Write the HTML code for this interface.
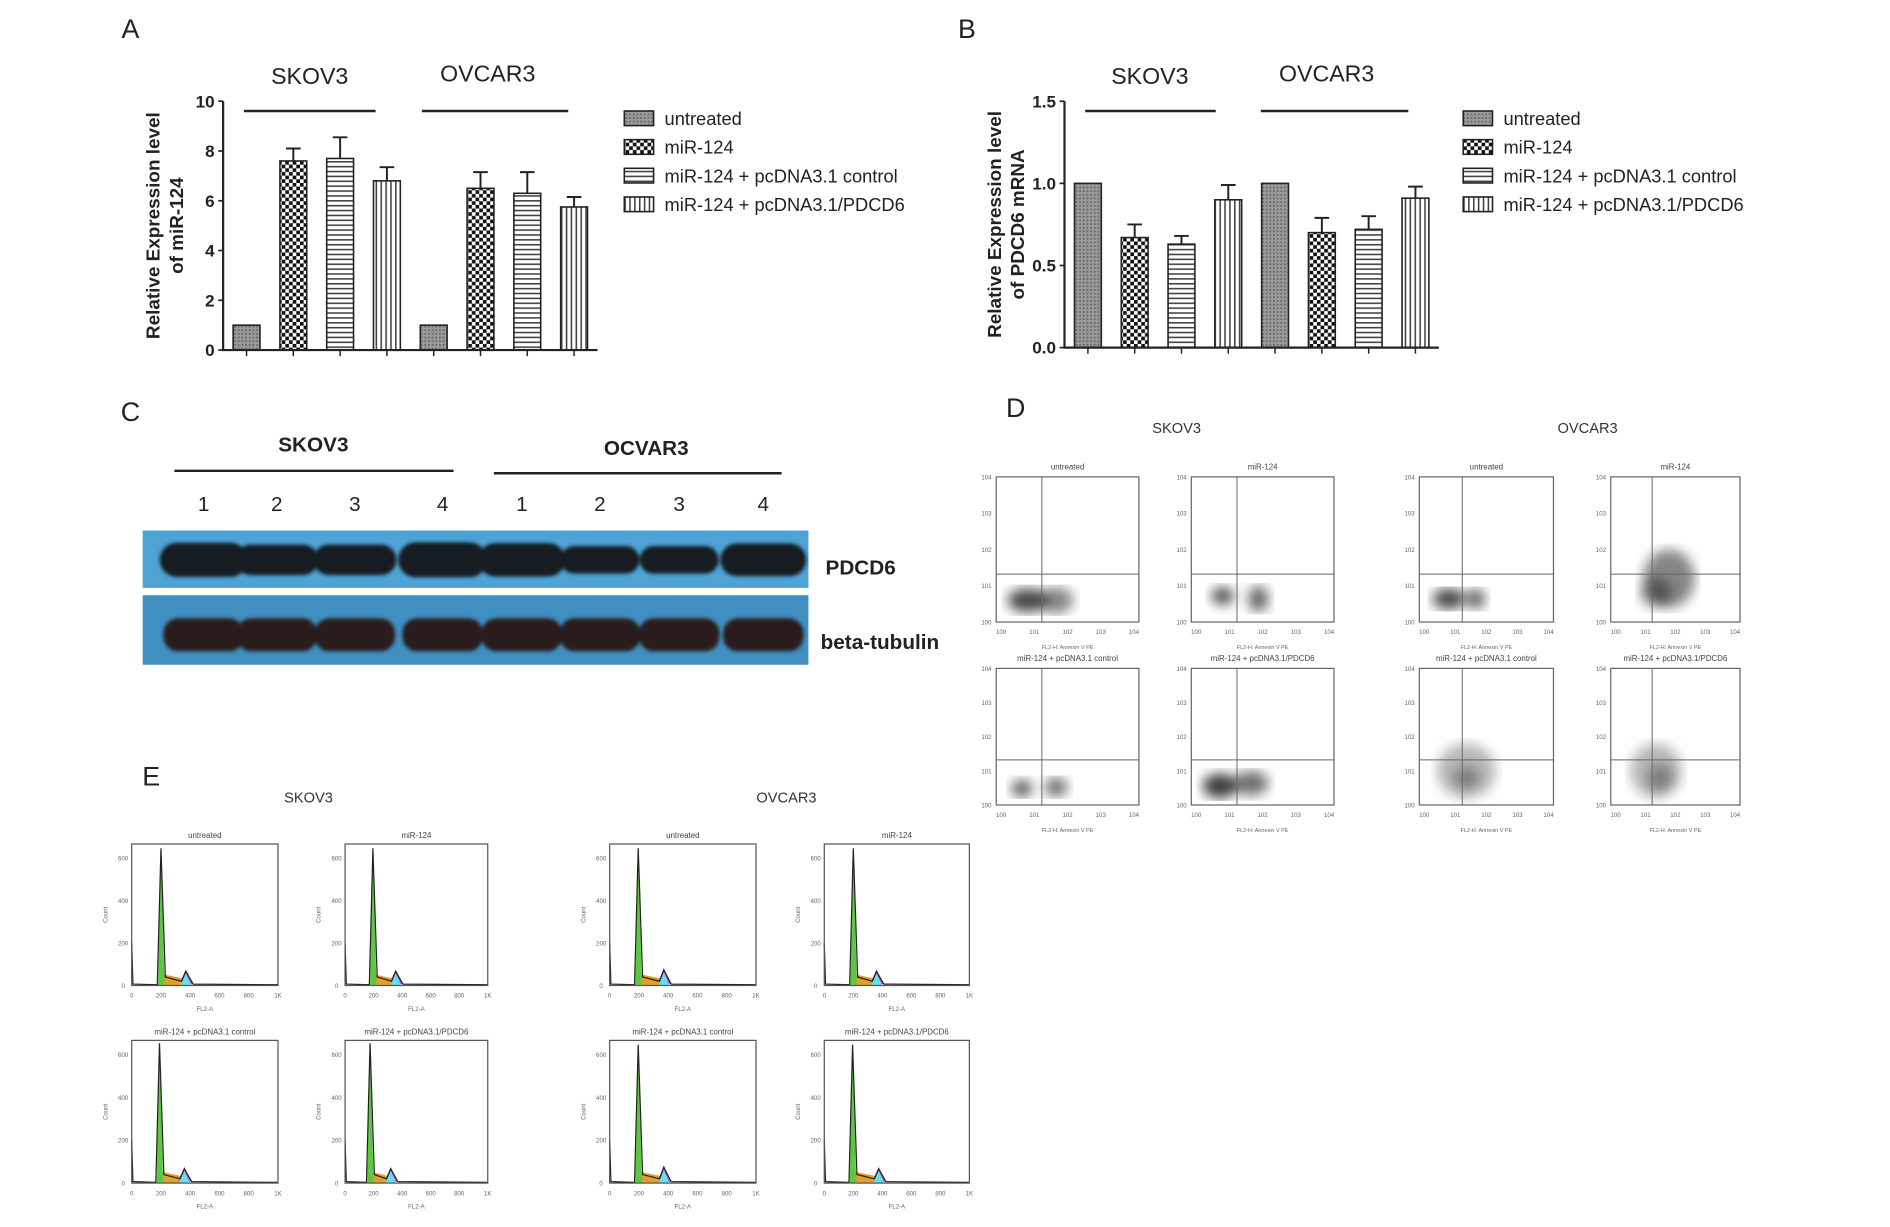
<!DOCTYPE html>
<html><head><meta charset="utf-8"><style>
html,body{margin:0;padding:0;background:#fff;}
svg{display:block;font-family:"Liberation Sans",Arial,sans-serif;}
</style></head><body>
<svg id="fig" width="1890" height="1227" viewBox="0 0 1550 1006" preserveAspectRatio="none">
<defs>
<pattern id="pUnt" width="3" height="3" patternUnits="userSpaceOnUse"><rect width="3" height="3" fill="#9a9a9a"/><rect width="1.5" height="1.5" fill="#6a6a6a"/></pattern>
<pattern id="pChk" width="6" height="6" patternUnits="userSpaceOnUse"><rect width="6" height="6" fill="#fff"/><rect width="3" height="3" fill="#111"/><rect x="3" y="3" width="3" height="3" fill="#111"/></pattern>
<pattern id="pHor" width="4" height="4" patternUnits="userSpaceOnUse"><rect width="4" height="4" fill="#fff"/><rect width="4" height="1.3" fill="#444"/></pattern>
<pattern id="pVer" width="4" height="4" patternUnits="userSpaceOnUse"><rect width="4" height="4" fill="#fff"/><rect width="1.3" height="4" fill="#444"/></pattern>
<filter id="blur3"><feGaussianBlur stdDeviation="3"/></filter>
<filter id="blur5"><feGaussianBlur stdDeviation="5"/></filter>
<filter id="blur2"><feGaussianBlur stdDeviation="1.5"/></filter>
</defs>
<g id="root"></g>
</svg>
<script>
// ---------- data ----------
const groups = ["SKOV3","OVCAR3"];
const legendLabels = ["untreated","miR-124","miR-124 + pcDNA3.1 control","miR-124 + pcDNA3.1/PDCD6"];
const valuesA = [1,7.6,7.7,6.8,1,6.5,6.3,5.75];
const errA    = [0,0.5,0.85,0.55,0,0.65,0.85,0.4];
const ticksA  = [0,2,4,6,8,10];
const valuesB = [1,0.67,0.63,0.9,1,0.7,0.72,0.91];
const errB    = [0,0.08,0.05,0.09,0,0.09,0.08,0.07];
const ticksB  = [0,0.5,1.0,1.5];
const laneNums = ["1","2","3","4","1","2","3","4"];
const pdcd6Intensity = [1.0,0.75,0.75,1.05,0.95,0.55,0.55,0.9];
const tubulinIntensity = [1,1,1,1,1,1,1,1];
const flowTitles = ["untreated","miR-124","miR-124 + pcDNA3.1 control","miR-124 + pcDNA3.1/PDCD6"];
const flowSK = [
 [[0.22,0.15,0.14,0.08,0.9],[0.42,0.15,0.12,0.09,0.6]],
 [[0.22,0.18,0.08,0.06,0.85],[0.47,0.16,0.07,0.09,0.75]],
 [[0.18,0.12,0.07,0.06,0.85],[0.42,0.13,0.08,0.07,0.7]],
 [[0.2,0.14,0.12,0.09,0.95],[0.42,0.16,0.12,0.09,0.7]]];
const flowOV = [
 [[0.22,0.16,0.12,0.07,0.9],[0.42,0.16,0.07,0.07,0.75]],
 [[0.45,0.3,0.2,0.2,0.6],[0.35,0.2,0.12,0.1,0.5]],
 [[0.35,0.25,0.22,0.2,0.35],[0.35,0.2,0.1,0.08,0.4]],
 [[0.35,0.25,0.2,0.2,0.35],[0.38,0.2,0.1,0.1,0.4]]];
const histSK = [[200,0.97,370,0.1],[195,0.97,355,0.1],[190,0.98,360,0.1],[175,0.98,320,0.1]];
const histOV = [[195,0.97,370,0.11],[200,0.97,360,0.1],[195,0.97,370,0.11],[195,0.97,375,0.1]];

const NS="http://www.w3.org/2000/svg";
const root=document.getElementById('root');
function el(tag,attrs,parent,txt){const e=document.createElementNS(NS,tag);for(const k in attrs)e.setAttribute(k,attrs[k]);if(txt!==undefined)e.textContent=txt;(parent||root).appendChild(e);return e;}
const fills=["url(#pUnt)","url(#pChk)","url(#pHor)","url(#pVer)"];

function barChart(name,ax,x1,yTop,yBot,vmax,vals,errs,ticks,tickFmt,titleLines,legX,grpLabelPos,grpLines){
  const g=el('g',{});
  
  
  const yS=v=>yBot-v/vmax*(yBot-yTop);
  const step=(x1-ax)/8;
  const xS=i=>ax+step*(i+0.5);
  const bw=22;
  vals.forEach((v,i)=>{
    const b=el('rect',{x:xS(i)-bw/2,y:yS(v),width:bw,height:yBot-yS(v),fill:fills[i%4],stroke:'#222','stroke-width':1.3},g);
    
    
    if(errs[i]>0){
      const yt=yS(v+errs[i]);
      const eb=el('path',{d:`M${xS(i)} ${yS(v)}V${yt}M${xS(i)-6} ${yt}H${xS(i)+6}`,stroke:'#222','stroke-width':1.6,fill:'none'},g);
      
      
    }
    el('line',{x1:xS(i),x2:xS(i),y1:yBot,y2:yBot+5,stroke:'#222','stroke-width':1.2},g);
  });
  const axes=el('path',{d:`M${ax} ${yTop}V${yBot}H${x1}`,stroke:'#222','stroke-width':1.8,fill:'none'},g);
  
  
  ticks.forEach(t=>{
    el('line',{x1:ax-4,x2:ax,y1:yS(t),y2:yS(t),stroke:'#222','stroke-width':1.4},g);
    const tl=el('text',{x:ax-7,y:yS(t)+5,'text-anchor':'end','font-size':14,'font-weight':'bold',fill:'#222'},g,tickFmt(t));
    
    
  });
  const tt=el('text',{transform:`translate(${ax-52},${(yTop+yBot)/2}) rotate(-90)`,'text-anchor':'middle','font-size':15.5,'font-weight':'bold',fill:'#222'},g);
  
  
  el('tspan',{x:0,dy:0},tt,titleLines[0]);
  el('tspan',{x:0,dy:19},tt,titleLines[1]);
  groups.forEach((gn,k)=>{
    const gl=el('text',{x:grpLabelPos[k][0],y:grpLabelPos[k][1],'text-anchor':'middle','font-size':19,fill:'#222'},g,gn);
    
    
    el('line',{x1:grpLines[k][0],x2:grpLines[k][1],y1:91,y2:91,stroke:'#222','stroke-width':2},g);
  });
  legendLabels.forEach((l,i)=>{
    const y=97+i*23.5;
    const le=el('g',{},g);
    
    
    el('rect',{x:legX,y:y-6,width:24,height:12,fill:fills[i],stroke:'#222','stroke-width':1.3},le);
    el('text',{x:legX+33,y:y+5.5,'font-size':15,fill:'#222'},le,l);
  });
}
barChart('chart-a-mir124',183,490,83,287,10,valuesA,errA,ticksA,t=>String(t),["Relative Expression level","of miR-124"],512,[[254,69],[400,67]],[[200,308],[346,466]]);
barChart('chart-b-pdcd6',873,1180,83,285,1.5,valuesB,errB,ticksB,t=>t.toFixed(1),["Relative Expression level","of PDCD6 mRNA"],1200,[[943,69],[1088,67]],[[890,997],[1034,1155]]);

[["A",107,31],["B",793,31],["C",107,345],["D",833,342],["E",124,644]].forEach(([t,x,y])=>{
  const p=el('text',{x:x,y:y,'font-size':22,fill:'#222','text-anchor':'middle'},root,t);
  
  
});

// ---------- Panel C western blot ----------
(function(){
  const g=el('g',{});
  
  
  el('text',{x:257,y:370,'text-anchor':'middle','font-size':17,'font-weight':'bold',fill:'#222'},g,'SKOV3');
  el('line',{x1:143,x2:372,y1:386,y2:386,stroke:'#222','stroke-width':2},g);
  el('text',{x:530,y:373,'text-anchor':'middle','font-size':17,'font-weight':'bold',fill:'#222'},g,'OCVAR3');
  el('line',{x1:405,x2:641,y1:388,y2:388,stroke:'#222','stroke-width':2},g);
  const lx=[167,227,291,363,428,492,557,626];
  laneNums.forEach((n,i)=>{el('text',{x:lx[i],y:419,'text-anchor':'middle','font-size':17,fill:'#222'},g,n);});
  const b1=el('rect',{x:117,y:435,width:546,height:47,fill:'#4ea3d6'},g);
  
  
  const b2=el('rect',{x:117,y:488,width:546,height:57,fill:'#3f8fc0'},g);
  
  
  const bg1=el('g',{filter:'url(#blur2)'},g);
  lx.forEach((x,i)=>{
    const w=28+pdcd6Intensity[i]*8, h=8+pdcd6Intensity[i]*6;
    el('rect',{x:x-w,y:459-h,width:2*w,height:2*h,rx:h,fill:'#151a22'},bg1);
  });
  const bg2=el('g',{filter:'url(#blur2)'},g);
  lx.forEach((x,i)=>{
    el('rect',{x:x-33,y:507,width:66,height:27,rx:12,fill:'#2a1e1c'},bg2);
  });
  el('text',{x:677,y:471,'font-size':17,'font-weight':'bold',fill:'#222'},g,'PDCD6');
  el('text',{x:673,y:532,'font-size':17,'font-weight':'bold',fill:'#222'},g,'beta-tubulin');
})();

// ---------- Panel D flow ----------
(function(){
  const g=el('g',{});
  
  
  el('text',{x:965,y:355,'text-anchor':'middle','font-size':12,fill:'#333'},g,'SKOV3');
  el('text',{x:1302,y:355,'text-anchor':'middle','font-size':12,fill:'#333'},g,'OVCAR3');
  const cols=[[817,934],[977,1094],[1164,1274],[1321,1427]];
  const rows=[[391,510],[548,660]];
  for(let c=0;c<4;c++)for(let r=0;r<2;r++){
    const [x0,x1]=cols[c],[y0,y1]=rows[r];
    const data=(c<2?flowSK:flowOV)[r*2+(c%2)];
    const p=el('g',{},g);
    
    
    el('text',{x:(x0+x1)/2,y:y0-6,'text-anchor':'middle','font-size':6.5,fill:'#444'},p,flowTitles[r*2+(c%2)]);
    const cg=el('g',{filter:'url(#blur5)'},p);
    data.forEach(d=>{
      el('ellipse',{cx:x0+d[0]*(x1-x0),cy:y1-d[1]*(y1-y0),rx:d[2]*(x1-x0),ry:d[3]*(y1-y0),fill:'#000','fill-opacity':d[4]*0.8},cg);
    });
    el('rect',{x:x0,y:y0,width:x1-x0,height:y1-y0,fill:'none',stroke:'#666','stroke-width':1},p);
    const qx=x0+0.32*(x1-x0), qy=y1-0.33*(y1-y0);
    el('line',{x1:qx,x2:qx,y1:y0,y2:y1,stroke:'#666','stroke-width':0.8},p);
    el('line',{x1:x0,x2:x1,y1:qy,y2:qy,stroke:'#666','stroke-width':0.8},p);
    for(let k=0;k<5;k++){
      el('text',{x:x0-8,y:y1-k*(y1-y0)/4+2,'text-anchor':'middle','font-size':5,fill:'#666'},p,'10'+k);
      el('text',{x:x0+4+k*(x1-x0-8)/4,y:y1+10,'text-anchor':'middle','font-size':5,fill:'#666'},p,'10'+k);
    }
    el('text',{x:(x0+x1)/2,y:y1+22,'text-anchor':'middle','font-size':4.5,fill:'#666'},p,'FL2-H: Annexin V PE');
  }
})();

// ---------- Panel E histograms ----------
(function(){
  const g=el('g',{});
  
  
  el('text',{x:253,y:658,'text-anchor':'middle','font-size':12,fill:'#333'},g,'SKOV3');
  el('text',{x:645,y:658,'text-anchor':'middle','font-size':12,fill:'#333'},g,'OVCAR3');
  const cols=[[108,228],[283,400],[500,620],[676,795]];
  const rows=[[692,808],[853,970]];
  for(let c=0;c<4;c++)for(let r=0;r<2;r++){
    const [x0,x1]=cols[c],[y0,y1]=rows[r];
    const h=(c<2?histSK:histOV)[r*2+(c%2)];
    const W=x1-x0,H=y1-y0;
    const X=v=>x0+v/1000*W, Y=f=>y1-f*H;
    const p=el('g',{},g);
    
    
    el('text',{x:(x0+x1)/2,y:y0-5,'text-anchor':'middle','font-size':6.5,fill:'#444'},p,flowTitles[r*2+(c%2)]);
    el('path',{d:`M${X(h[0])} ${Y(0)}L${X(h[0]+10)} ${Y(0.08)}L${X(h[2]-20)} ${Y(0.05)}L${X(h[2])} ${Y(0)}Z`,fill:'#e0a030'},p);
    el('path',{d:`M${X(h[0]-20)} ${Y(0)}L${X(h[0])} ${Y(h[1])}L${X(h[0]+25)} ${Y(0)}Z`,fill:'#5cc840'},p);
    el('path',{d:`M${X(h[2]-35)} ${Y(0)}L${X(h[2])} ${Y(h[3])}L${X(h[2]+40)} ${Y(0)}Z`,fill:'#60e0f0'},p);
    el('path',{d:`M${X(h[2]-30)} ${Y(0.03)}L${X(h[2])} ${Y(h[3])}L${X(h[2]+40)} ${Y(0.01)}`,fill:'none',stroke:'#d040d0','stroke-width':1.3},p);
    el('path',{d:`M${x0} ${Y(0.3)}L${x0+1} ${Y(0.01)}L${X(h[0]-25)} ${Y(0.005)}L${X(h[0])} ${Y(h[1])}L${X(h[0]+30)} ${Y(0.06)}L${X(h[2]-30)} ${Y(0.03)}L${X(h[2])} ${Y(h[3])}L${X(h[2]+50)} ${Y(0.01)}L${x1} ${Y(0.005)}`,fill:'none',stroke:'#222','stroke-width':1},p);
    el('rect',{x:x0,y:y0,width:W,height:H,fill:'none',stroke:'#555','stroke-width':1},p);
    ["0","200","400","600","800","1K"].forEach((t,k)=>{
      el('text',{x:x0+k*W/5,y:y1+10,'text-anchor':'middle','font-size':5,fill:'#666'},p,t);
    });
    ["0","200","400","600"].forEach((t,k)=>{
      el('text',{x:x0-7,y:y1-k*H*0.3+2,'text-anchor':'middle','font-size':5,fill:'#666'},p,t);
    });
    el('text',{x:(x0+x1)/2,y:y1+21,'text-anchor':'middle','font-size':5,fill:'#666'},p,'FL2-A');
    el('text',{transform:`translate(${x0-20},${(y0+y1)/2}) rotate(-90)`,'text-anchor':'middle','font-size':5,fill:'#666'},p,'Count');
  }
})();
</script>
</body></html>
